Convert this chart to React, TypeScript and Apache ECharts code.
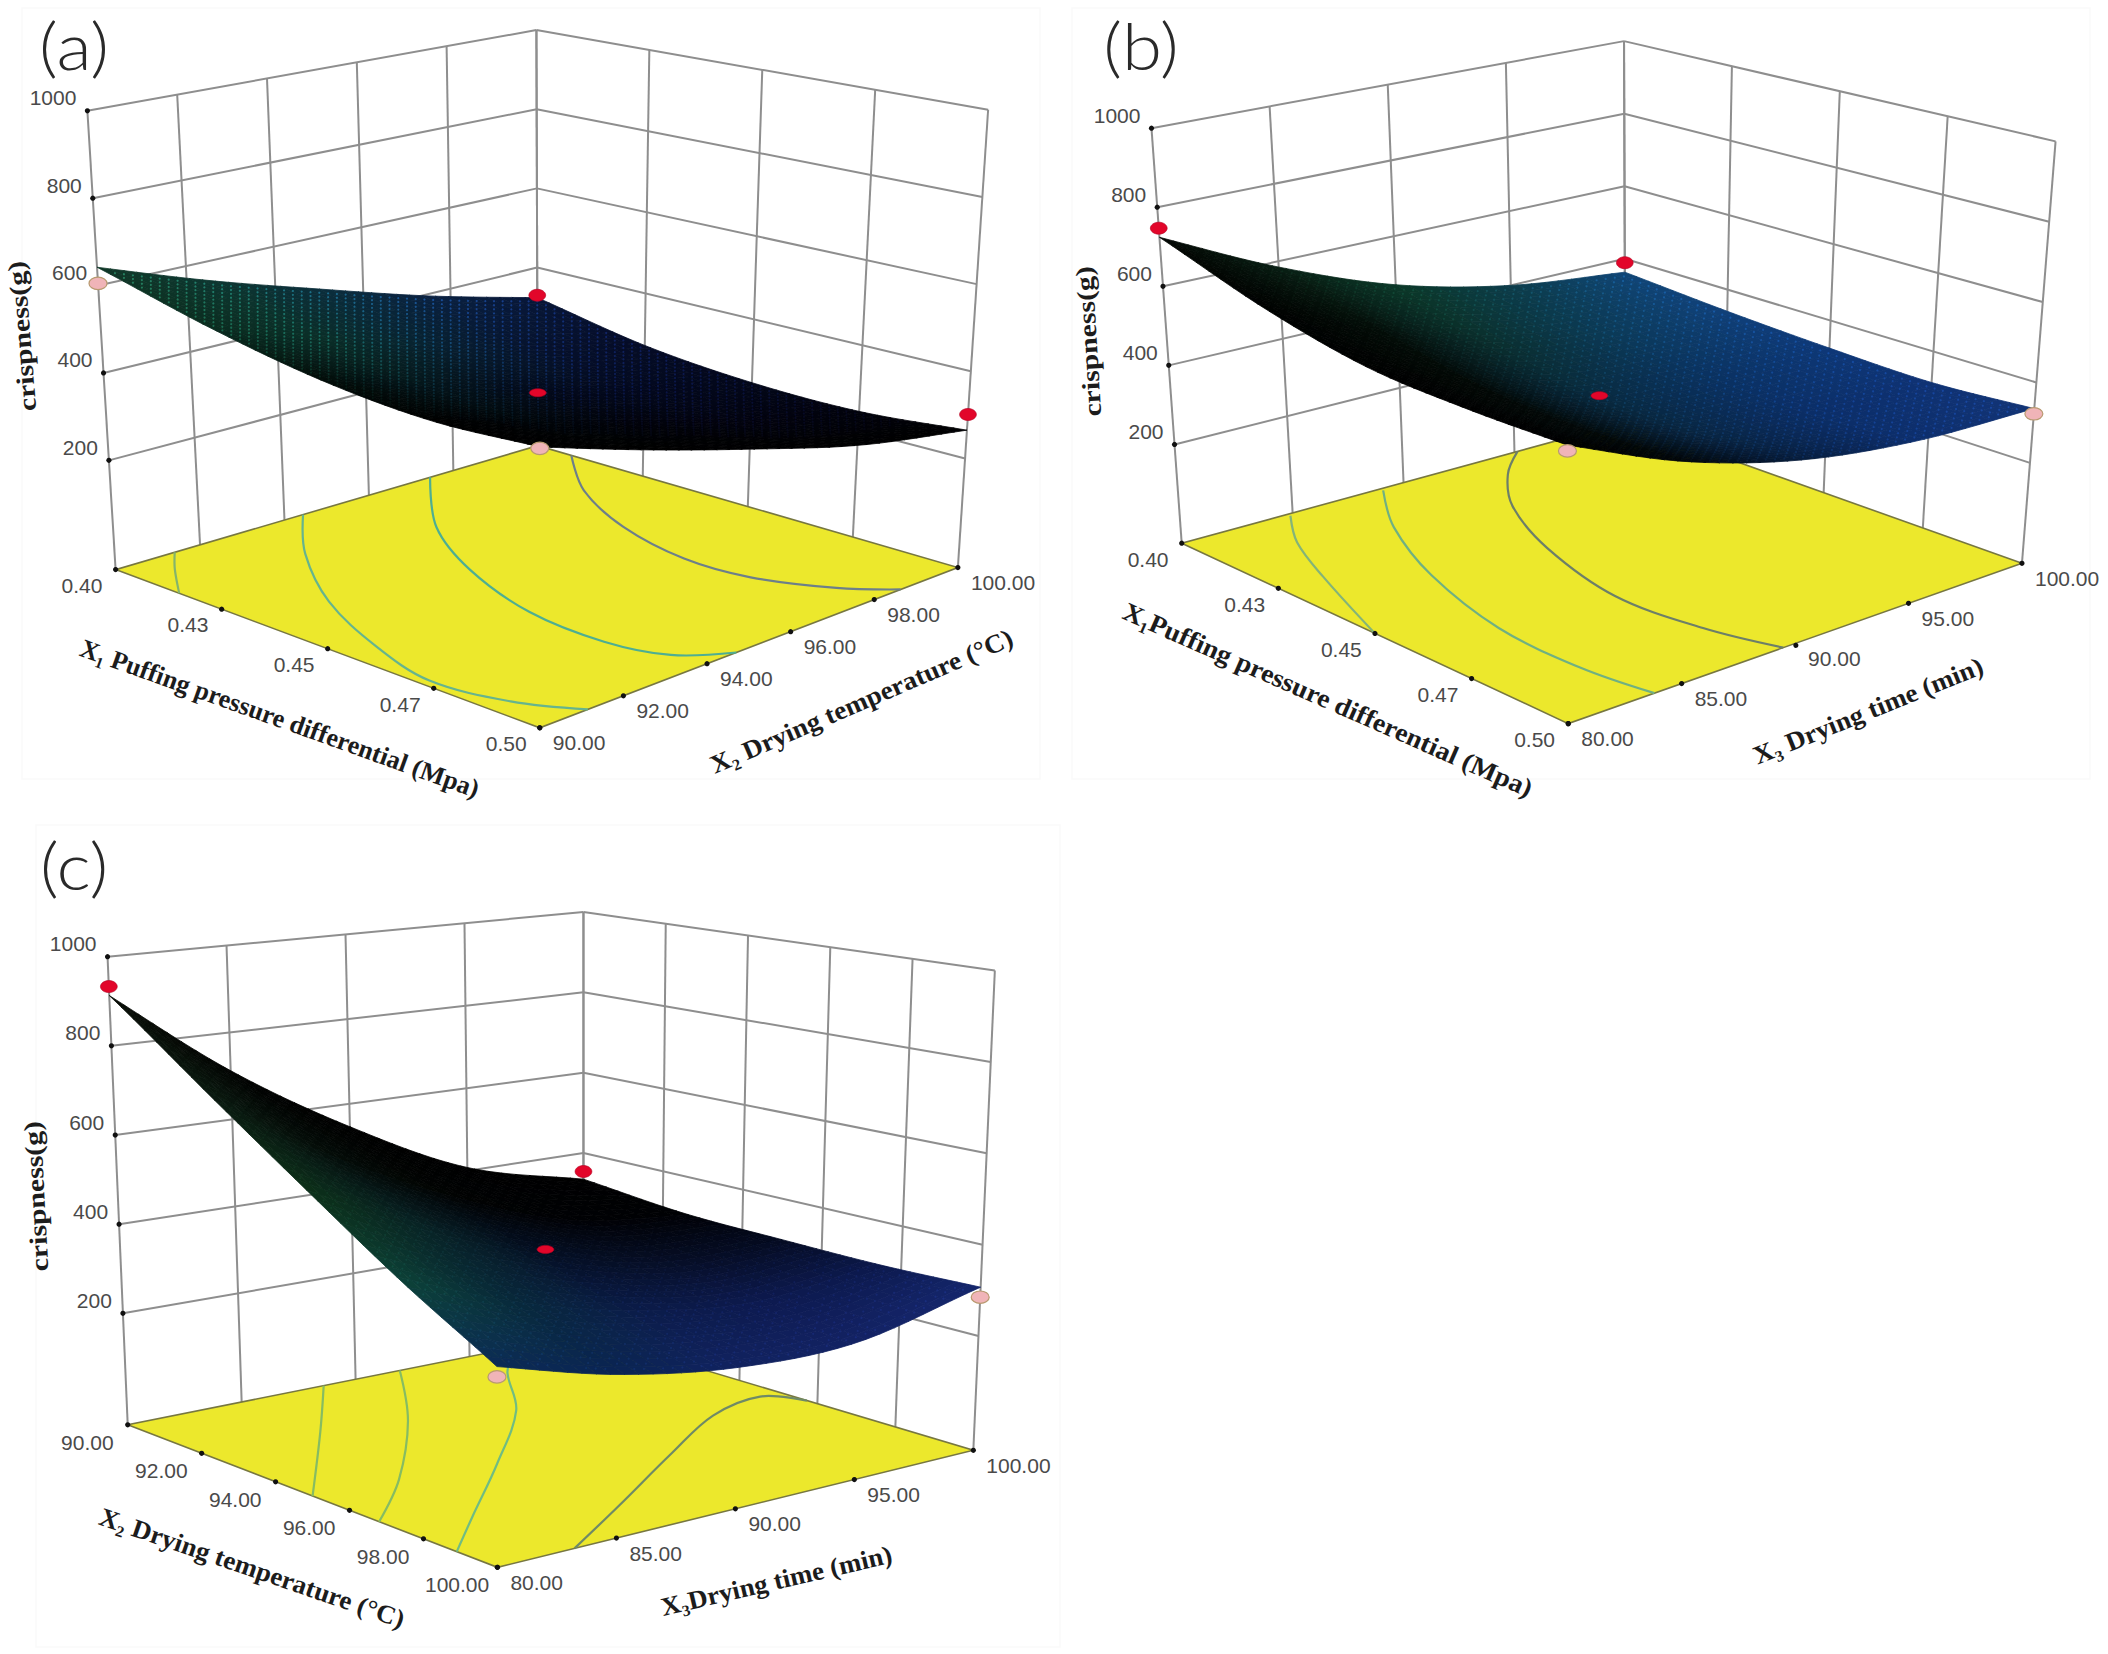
import React, { useEffect, useRef } from "react";
import * as echarts from "echarts";

// ---------- data ----------
const zTicks = [200, 400, 600, 800, 1000];
const zFloor = -50;
const zTop = 1000;

const x1Labels = ["0.40", "0.43", "0.45", "0.47", "0.50"];
const x2Labels = ["90.00", "92.00", "94.00", "96.00", "98.00", "100.00"];
const x3Labels = ["80.00", "85.00", "90.00", "95.00", "100.00"];

// Surface heights on a 5 x 5 lattice: rows run along the right-hand floor axis, columns along the left-hand one.
const surfaceA = [
  [642, 577, 532, 514, 526],
  [555, 493, 452, 438, 451],
  [475, 415, 378, 366, 380],
  [395, 337, 306, 296, 312],
  [324, 272, 248, 245, 265],
];
const surfaceB = [
  [724, 640, 588, 577, 580],
  [585, 510, 460, 450, 464],
  [472, 405, 365, 362, 385],
  [400, 360, 338, 330, 345],
  [363, 342, 328, 321, 335],
];
const surfaceC = [
  [913, 741, 588, 452, 340],
  [712, 578, 462, 359, 277],
  [546, 447, 366, 296, 241],
  [408, 347, 303, 267, 242],
  [335, 311, 305, 302, 307],
];

// Design points: [left-axis position 0..1, right-axis position 0..1, crispness, above surface 1 / below 0 / centre 2]
const pointsA = [
  [0, 0, 605, 0],
  [0, 1, 330, 1],
  [1, 1, 301, 1],
  [1, 0, 523, 0],
  [0.5, 0.5, 371, 2],
];
const pointsB = [
  [0, 0, 747, 1],
  [0, 1, 389, 1],
  [1, 1, 322, 0],
  [1, 0, 567, 0],
  [0.5, 0.5, 368, 2],
];
const pointsC = [
  [0, 0, 933, 1],
  [0, 1, 354, 1],
  [1, 1, 285, 0],
  [1, 0, 320, 0],
  [0.5, 0.5, 378, 2],
];

// Floor contours, as [left-axis position, right-axis position]
const contoursA = [
  [[0, 0.14], [0.06, 0.08], [0.15, 0]],
  [[0, 0.444], [0.147, 0.302], [0.341, 0.163], [0.547, 0.068], [0.72, 0.02], [0.882, 0.05], [1, 0.115]],
  [[0, 0.745], [0.197, 0.563], [0.391, 0.448], [0.61, 0.37], [0.8, 0.356], [0.926, 0.388], [1, 0.47]],
  [[0.08, 1], [0.233, 0.877], [0.42, 0.784], [0.611, 0.737], [0.762, 0.744], [0.91, 0.8], [1, 0.863]],
];
const contoursB = [
  [[0.008, 0.238], [0.11, 0.164], [0.255, 0.096], [0.5, 0]],
  [[0.008, 0.447], [0.154, 0.343], [0.361, 0.246], [0.613, 0.178], [0.833, 0.169], [1, 0.19]],
  [[0, 0.757], [0.078, 0.666], [0.201, 0.568], [0.39, 0.48], [0.632, 0.42], [0.841, 0.434], [1, 0.474]],
];
const contoursC = [
  [[0, 0.43], [0.216, 0.245], [0.5, 0]],
  [[0, 0.597], [0.252, 0.406], [0.512, 0.176], [0.68, 0]],
  [[0.05, 0.8], [0.12, 0.732], [0.311, 0.592], [0.541, 0.363], [0.754, 0.14], [0.89, 0]],
  [[1, 0.162], [0.862, 0.363], [0.676, 0.627], [0.543, 0.824], [0.502, 0.959], [0.573, 1]],
];

// ---------- layout ----------
type Pt = [number, number];
const WIDTH = 2108;
const HEIGHT = 1654;

interface Panel {
  tag: string;
  tagAt: Pt;
  origin: Pt;
  ky: number;
  box: number[];
  floor: Pt[]; // left, front, right, back
  roof: Pt[];
  leftLabels: string[];
  rightLabels: string[];
  leftOffset: Pt;
  surface: number[][];
  points: number[][];
  contours: number[][][];
  contourColors: string[];
  shades: string[][];
  dotGain: number;
  zName: [Pt, Pt];
  leftName: [string, Pt, Pt, number];
  rightName: [string, Pt, Pt, number];
}

const kx = 1054 / 1568;
const panels: Panel[] = [
  {
    tag: "(a)",
    tagAt: [74, 45],
    origin: [0, 0],
    ky: 827 / 1568,
    box: [22, 8, 1018, 771],
    floor: [[172, 1080], [803, 1380], [1425, 1076], [800, 845]],
    roof: [[130, 210], [803, 409], [1470, 208], [798, 57]],
    leftLabels: x1Labels,
    rightLabels: x2Labels,
    leftOffset: [-50, 30],
    surface: surfaceA,
    points: pointsA,
    contours: contoursA,
    contourColors: ["#84b46c", "#66b48e", "#4eae92", "#6d7f8a"],
    shades: [
      ["#103828", "#0a2c20", "#020c08", "#000000", "#000000"],
      ["#0d3630", "#0a2e28", "#04141a", "#000408", "#000000"],
      ["#0b2e3c", "#082232", "#030a1c", "#01020a", "#000000"],
      ["#0a2242", "#06122e", "#03081e", "#02030e", "#000000"],
      ["#081638", "#050b26", "#03071a", "#01020c", "#000001"],
    ],
    dotGain: 2.3,
    zName: [[42, 785], [24, 490]],
    leftName: ["X₁ Puffing pressure differential (Mpa)", [116, 1225], [716, 1500], 1.0],
    rightName: ["X₂ Drying temperature (°C)", [1059, 1452], [1504, 1207], 1.06],
  },
  {
    tag: "(b)",
    tagAt: [1141, 45],
    origin: [1054, 0],
    ky: 827 / 1568,
    box: [1072, 8, 1018, 771],
    floor: [[190, 1030], [765, 1372], [1440, 1068], [850, 800]],
    roof: [[145, 243], [763, 492], [1490, 268], [848, 78]],
    leftLabels: x1Labels,
    rightLabels: x3Labels,
    leftOffset: [-50, 30],
    surface: surfaceB,
    points: pointsB,
    contours: contoursB,
    contourColors: ["#84b478", "#70b082", "#6d7f68"],
    shades: [
      ["#040804", "#000201", "#000000", "#000000", "#000000"],
      ["#081f14", "#030c07", "#020805", "#020808", "#01060a"],
      ["#0b3828", "#0a2e2e", "#082a40", "#082542", "#061c3c"],
      ["#0c3c4a", "#0b3a58", "#0a3262", "#0b2e68", "#0d2e6c"],
      ["#104678", "#10407a", "#0e3878", "#0f3274", "#123476"],
    ],
    dotGain: 1.35,
    zName: [[58, 790], [45, 505]],
    leftName: ["X₁Puffing pressure differential (Mpa)", [105, 1157], [710, 1497], 1.07],
    rightName: ["X₃ Drying time (min)", [1041, 1435], [1381, 1260], 1.05],
  },
  {
    tag: "(c)",
    tagAt: [74, 865],
    origin: [0, 820],
    ky: 834 / 1568,
    box: [36, 825, 1024, 822],
    floor: [[190, 1137], [740, 1405], [1448, 1185], [868, 966]],
    roof: [[160, 257], [738, 389], [1480, 283], [868, 173]],
    leftLabels: x2Labels,
    rightLabels: x3Labels,
    leftOffset: [-60, 33],
    surface: surfaceC,
    points: pointsC,
    contours: contoursC,
    contourColors: ["#86bc62", "#86bc62", "#70bc82", "#6f8a66"],
    shades: [
      ["#080c06", "#0a1a10", "#0c3018", "#0c4238", "#0b2a56"],
      ["#010201", "#040c08", "#082426", "#08283c", "#0a2454"],
      ["#000000", "#010302", "#040f24", "#0b1c4a", "#112260"],
      ["#000000", "#000104", "#060e26", "#0d1a50", "#132264"],
      ["#000000", "#000104", "#040a20", "#0c194c", "#15276e"],
    ],
    dotGain: 1.2,
    zName: [[60, 855], [48, 560]],
    leftName: ["X₂ Drying temperature (°C)", [145, 1306], [605, 1506], 1.04],
    rightName: ["X₃Drying time (min)", [985, 1480], [1325, 1380], 1.04],
  },
];

const SANS = '"Liberation Sans", Arial, sans-serif';
const SERIF = '"Liberation Serif", "Times New Roman", serif';
const GRID = "#8e8e8e";

// ---------- scales ----------
const toPage = (p: Panel, z: Pt): Pt => [p.origin[0] + z[0] * kx, p.origin[1] + z[1] * p.ky];

const bilinear = (c: Pt[], u: number, v: number): Pt => {
  const a = (1 - u) * (1 - v), b = u * (1 - v), d = u * v, e = (1 - u) * v;
  return [
    a * c[0][0] + b * c[1][0] + d * c[2][0] + e * c[3][0],
    a * c[0][1] + b * c[1][1] + d * c[2][1] + e * c[3][1],
  ];
};

// left-axis position u, right-axis position v, crispness z -> page pixel
const project = (p: Panel, u: number, v: number, z: number): Pt => {
  const w = (z - zFloor) / (zTop - zFloor);
  const f = bilinear(p.floor, u, v);
  const r = bilinear(p.roof, u, v);
  return toPage(p, [f[0] + (r[0] - f[0]) * w, f[1] + (r[1] - f[1]) * w]);
};

const cr = (a: number, b: number, c: number, d: number, t: number) =>
  0.5 * (2 * b + (c - a) * t + (2 * a - 5 * b + 4 * c - d) * t * t + (3 * b - a - 3 * c + d) * t * t * t);

const smooth1 = (vals: (i: number) => number, n: number, s: number) => {
  const x = Math.min(s * (n - 1), n - 1.000001);
  const i = Math.floor(x);
  const t = x - i;
  const g = (k: number) => (k < 0 ? 2 * vals(0) - vals(1) : k >= n ? 2 * vals(n - 1) - vals(n - 2) : vals(k));
  return cr(g(i - 1), g(i), g(i + 1), g(i + 2), t);
};

// smooth drawing of the lattice
const surfaceZ = (s: number[][], u: number, v: number) =>
  smooth1((r) => smooth1((c) => s[r][c], s[r].length, u), s.length, v);

const hex = (h: string) => [1, 3, 5].map((i) => parseInt(h.slice(i, i + 2), 16));

const shade = (g: string[][], u: number, v: number) => {
  const n = g.length - 1;
  const x = Math.min(u * n, n - 0.0001), y = Math.min(v * n, n - 0.0001);
  const i = Math.floor(x), j = Math.floor(y);
  const t = x - i, q = y - j;
  const a = hex(g[j][i]), b = hex(g[j][i + 1]), c = hex(g[j + 1][i]), d = hex(g[j + 1][i + 1]);
  return [0, 1, 2].map((k) => (a[k] * (1 - t) + b[k] * t) * (1 - q) + (c[k] * (1 - t) + d[k] * t) * q);
};
const css = (c: number[]) => `rgb(${c.map((x) => Math.round(Math.min(255, x))).join(",")})`;

// ---------- drawing ----------
const label = (
  text: string,
  x: number,
  y: number,
  o: { size: number; family: string; weight?: any; fill: string; align?: string; rotation?: number; scaleX?: number }
) => ({
  type: "text",
  x,
  y,
  rotation: o.rotation || 0,
  scaleX: o.scaleX || 1,
  style: {
    text,
    x: 0,
    y: 0,
    fill: o.fill,
    fontSize: o.size,
    fontFamily: o.family,
    fontWeight: o.weight || "normal",
    align: o.align || "center",
    verticalAlign: "middle",
    textAlign: o.align || "center",
    textVerticalAlign: "middle",
  },
});

const sloped = (p: Panel, text: string, a: Pt, b: Pt, size: number, scaleX: number) => {
  const A = toPage(p, a), B = toPage(p, b);
  return label(text, (A[0] + B[0]) / 2, (A[1] + B[1]) / 2, {
    size,
    family: SERIF,
    weight: "bold",
    fill: "#1c1c1c",
    rotation: -Math.atan2(B[1] - A[1], B[0] - A[0]),
    scaleX,
  });
};

const renderPanel = (p: Panel) => (_: any, api: any) => {
  const at = (q: Pt) => api.coord(q) as number[];
  const P = (u: number, v: number, z: number) => at(project(p, u, v, z));
  const kids: any[] = [];
  const seg = (a: number[], b: number[], stroke = GRID, lineWidth = 2) =>
    kids.push({ type: "line", shape: { x1: a[0], y1: a[1], x2: b[0], y2: b[1] }, style: { stroke, lineWidth } });

  // faint scan frame
  const tl = at([p.box[0], p.box[1]]);
  kids.push({
    type: "rect",
    shape: { x: tl[0], y: tl[1], width: p.box[2], height: p.box[3] },
    style: { fill: "#ffffff", stroke: "#fafafa", lineWidth: 1.5 },
  });

  // back walls: the wall over the u = 0 edge is divided like the right-hand axis, and vice versa
  const leftN = p.leftLabels.length - 1;
  const rightN = p.rightLabels.length - 1;
  for (let i = 0; i <= rightN; i++) seg(P(0, i / rightN, zFloor), P(0, i / rightN, zTop));
  for (let i = 0; i <= leftN; i++) seg(P(i / leftN, 1, zFloor), P(i / leftN, 1, zTop));
  zTicks.forEach((z) => {
    seg(P(0, 0, z), P(0, 1, z));
    seg(P(0, 1, z), P(1, 1, z));
  });

  // floor
  const floorPts = [P(0, 0, zFloor), P(1, 0, zFloor), P(1, 1, zFloor), P(0, 1, zFloor)];
  kids.push({
    type: "polygon",
    shape: { points: floorPts },
    style: { fill: "#ece82c", stroke: "#777741", lineWidth: 1.6 },
  });
  p.contours.forEach((c, i) =>
    kids.push({
      type: "polyline",
      shape: { points: c.map((q) => P(q[0], q[1], zFloor)), smooth: 0.35 },
      style: { fill: "none", stroke: p.contourColors[i], lineWidth: 2.2 },
    })
  );

  // ticks and tick labels
  const dot = (q: number[], r = 2.6, fill = "#111") =>
    kids.push({ type: "circle", shape: { cx: q[0], cy: q[1], r }, style: { fill } });
  const tick = { size: 21, family: SANS, fill: "#4a4a4a" };
  zTicks.forEach((z) => {
    const q = P(0, 0, z);
    dot(q);
    kids.push(label(String(z), q[0] - 11, q[1] - 13, { ...tick, align: "right" }));
  });
  p.leftLabels.forEach((t, i) => {
    const q = P(i / leftN, 0, zFloor);
    dot(q);
    kids.push(label(t, q[0] + p.leftOffset[0] * kx, q[1] + p.leftOffset[1] * p.ky, tick));
  });
  p.rightLabels.forEach((t, i) => {
    const q = P(1, i / rightN, zFloor);
    dot(q);
    kids.push(label(t, q[0] + 13, q[1] + 15, { ...tick, align: "left" }));
  });

  // surface, painted from the back corner to the front corner
  const N = 34;
  for (let j = N - 1; j >= 0; j--) {
    for (let i = 0; i < N; i++) {
      const u0 = i / N, u1 = (i + 1) / N, v0 = j / N, v1 = (j + 1) / N;
      const col = css(shade(p.shades, (u0 + u1) / 2, (v0 + v1) / 2));
      kids.push({
        type: "polygon",
        shape: {
          points: [
            P(u0, v0, surfaceZ(p.surface, u0, v0)),
            P(u1, v0, surfaceZ(p.surface, u1, v0)),
            P(u1, v1, surfaceZ(p.surface, u1, v1)),
            P(u0, v1, surfaceZ(p.surface, u0, v1)),
          ],
        },
        style: { fill: col, stroke: col, lineWidth: 0.8 },
      });
    }
  }
  const M = 50;
  for (let j = 1; j < M; j++) {
    for (let i = 1; i < M; i++) {
      const u = i / M, v = j / M;
      const c = shade(p.shades, u, v);
      if (c[0] + c[1] + c[2] < 8) continue;
      const q = P(u, v, surfaceZ(p.surface, u, v));
      kids.push({
        type: "circle",
        shape: { cx: q[0], cy: q[1], r: 1.1 },
        style: { fill: css(c.map((x) => x * p.dotGain + 3)) },
      });
    }
  }

  // design points
  p.points.forEach((d) => {
    const q = P(d[0], d[1], d[2]);
    const low = d[3] === 0;
    const centre = d[3] === 2;
    kids.push({
      type: "ellipse",
      shape: { cx: q[0], cy: q[1], rx: low ? 9 : 8.4, ry: centre ? 4 : low ? 6.2 : 6 },
      style: low
        ? { fill: "#f0b4b8", stroke: "#b89a70", lineWidth: 1.2 }
        : { fill: "#e2062a", stroke: "#b00020", lineWidth: 0.6 },
    });
  });

  // names
  kids.push(sloped(p, "crispness(g)", p.zName[0], p.zName[1], 25, 1.19));
  kids.push(sloped(p, p.leftName[0], p.leftName[1], p.leftName[2], 26, p.leftName[3]));
  kids.push(sloped(p, p.rightName[0], p.rightName[1], p.rightName[2], 26, p.rightName[3]));
  const tagPos = at(p.tagAt);
  kids.push(
    label(p.tag, tagPos[0], tagPos[1], {
      size: 66,
      family: "Lato, 'Noto Sans', sans-serif",
      weight: 300,
      fill: "#2a2a2a",
      scaleX: 1.1,
    })
  );

  return { type: "group", children: kids };
};

export default function App() {
  const ref = useRef<HTMLDivElement>(null);
  useEffect(() => {
    const chart = echarts.init(ref.current as HTMLDivElement, undefined, { renderer: "svg" });
    chart.setOption({
      animation: false,
      backgroundColor: "#ffffff",
      tooltip: { show: false },
      grid: { left: 0, right: 0, top: 0, bottom: 0 },
      xAxis: { type: "value", min: 0, max: WIDTH, show: false },
      yAxis: { type: "value", min: 0, max: HEIGHT, inverse: true, show: false },
      series: panels.map((p) => ({
        type: "custom",
        coordinateSystem: "cartesian2d",
        silent: true,
        clip: false,
        data: [[0, 0]],
        renderItem: renderPanel(p),
      })),
    });
    return () => chart.dispose();
  }, []);
  return <div ref={ref} style={{ position: "absolute", left: 0, top: 0, width: WIDTH, height: HEIGHT }} />;
}
